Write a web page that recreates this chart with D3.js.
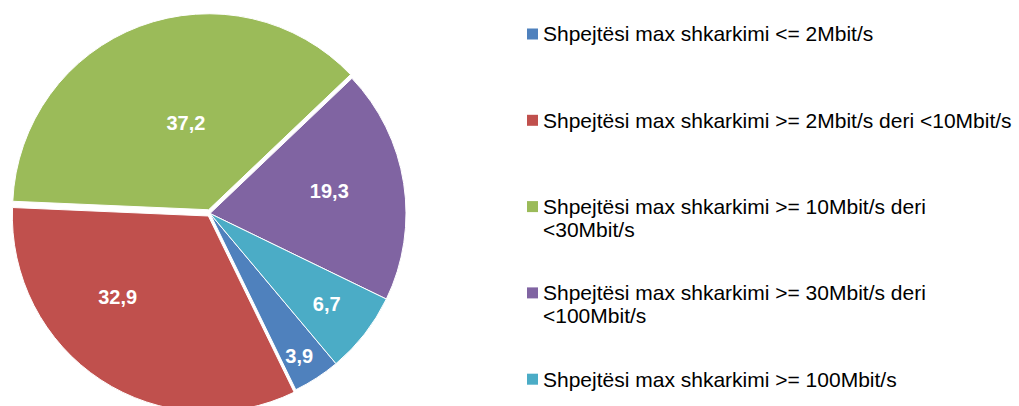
<!DOCTYPE html>
<html>
<head>
<meta charset="utf-8">
<script src="https://cdn.jsdelivr.net/npm/d3@7"></script>
<style>
  html, body { margin: 0; padding: 0; background: #fff; }
  svg { display: block; font-family: "Liberation Sans", Arial, sans-serif; }
</style>
</head>
<body>
<div id="chart"></div>
<script>
// data
const categories = [
    "Shpejtësi max shkarkimi <= 2Mbit/s",
    "Shpejtësi max shkarkimi >= 2Mbit/s deri <10Mbit/s",
    "Shpejtësi max shkarkimi >= 10Mbit/s deri <30Mbit/s",
    "Shpejtësi max shkarkimi >= 30Mbit/s deri <100Mbit/s",
    "Shpejtësi max shkarkimi >= 100Mbit/s"
];
const values = [3.9, 32.9, 37.2, 19.3, 6.7];
const colors = ["#4F81BD", "#C0504D", "#9BBB59", "#8064A2", "#4BACC6"];

// layout tweaks (exploded slices, label placement)
const explode = [0, 3, 4, 0, 0];
const labelFrac = [0.86, 0.62, 0.46, 0.62, 0.755];
const labelTurn = [1, 15, 6, -2, 0];

const width = 1019, height = 406;
const cx = 210, cy = 213.5, radius = 196;
const deg = Math.PI / 180;

const svg = d3.select("#chart").append("svg")
    .attr("width", width)
    .attr("height", height);

const pie = d3.pie()
    .sort(null)
    .value(d => d)
    .startAngle(140 * deg)
    .endAngle(500 * deg);

const arcs = pie(values);
const arc = d3.arc().innerRadius(0).outerRadius(radius);

const fmt = v => d3.format(".1f")(v).replace(".", ",");

const g = svg.append("g").attr("transform", `translate(${cx},${cy})`);

const slice = g.selectAll("g.slice")
    .data(arcs)
    .enter().append("g")
    .attr("class", "slice")
    .attr("transform", (d, i) => {
        const mid = (d.startAngle + d.endAngle) / 2;
        return `translate(${Math.sin(mid) * explode[i]},${-Math.cos(mid) * explode[i]})`;
    });

slice.append("path")
    .attr("d", arc)
    .attr("fill", (d, i) => colors[i])
    .attr("stroke", "#fff")
    .attr("stroke-width", 1);

slice.append("text")
    .attr("x", (d, i) => {
        const a = (d.startAngle + d.endAngle) / 2 + labelTurn[i] * deg;
        return Math.sin(a) * radius * labelFrac[i];
    })
    .attr("y", (d, i) => {
        const a = (d.startAngle + d.endAngle) / 2 + labelTurn[i] * deg;
        return -Math.cos(a) * radius * labelFrac[i];
    })
    .attr("dy", "0.35em")
    .attr("text-anchor", "middle")
    .attr("fill", "#fff")
    .attr("font-weight", "bold")
    .attr("font-size", 20)
    .text(d => fmt(d.data));

// legend
const legendX = 527, legendTop = 34, legendStep = 86.3, lineH = 23, maxW = 476;

const legend = svg.append("g");

categories.forEach((name, i) => {
    const y = legendTop + i * legendStep;
    legend.append("rect")
        .attr("x", legendX)
        .attr("y", y - 5.5)
        .attr("width", 11)
        .attr("height", 11)
        .attr("fill", colors[i]);

    const text = legend.append("text")
        .attr("x", legendX + 16)
        .attr("y", y)
        .attr("font-size", 21)
        .attr("fill", "#000");

    // simple word wrap
    const words = name.split(" ");
    let line = [];
    let tspan = text.append("tspan").attr("x", legendX + 16).attr("dy", "0.35em");
    words.forEach(w => {
        line.push(w);
        tspan.text(line.join(" "));
        if (tspan.node().getComputedTextLength() > maxW && line.length > 1) {
            line.pop();
            tspan.text(line.join(" "));
            line = [w];
            tspan = text.append("tspan")
                .attr("x", legendX + 16)
                .attr("dy", lineH + "px")
                .text(w);
        }
    });
});
</script>
</body>
</html>
